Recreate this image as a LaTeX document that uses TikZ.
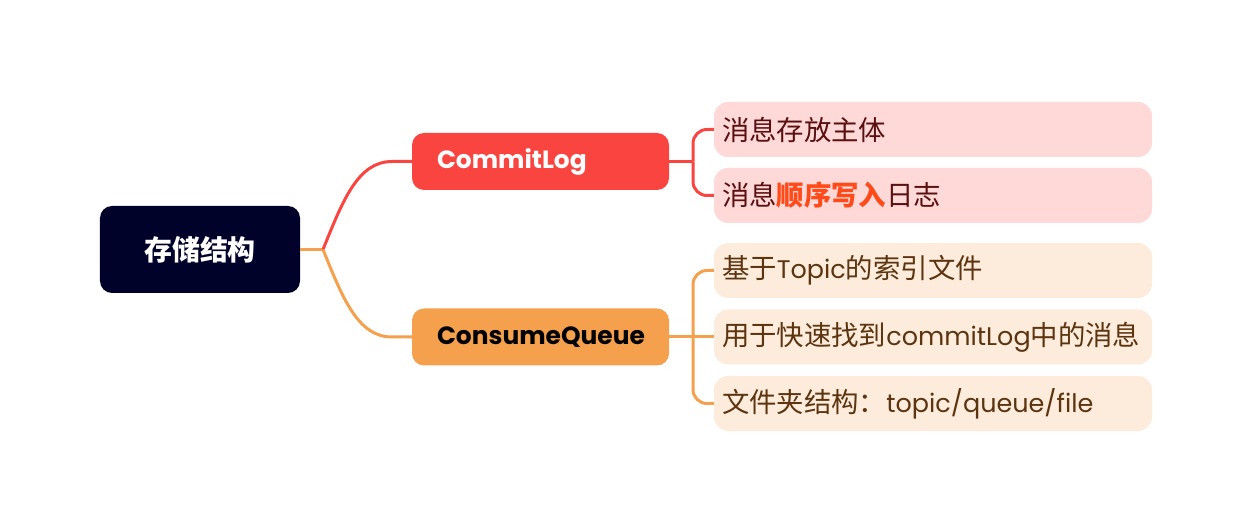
\documentclass[tikz,border=0pt]{standalone}
\usepackage{fontspec}
\setmainfont{Poppins}
\newfontfamily\cjk{Noto Sans CJK SC}
\newfontfamily\lat[Scale=0.93]{Poppins}
\usetikzlibrary{calc,positioning}

\definecolor{rootbg}{HTML}{01022A}
\definecolor{logred}{HTML}{F94440}
\definecolor{queueorg}{HTML}{F5A04C}
\definecolor{pinkbg}{HTML}{FFD9D8}
\definecolor{peachbg}{HTML}{FDEBDC}
\definecolor{redtext}{HTML}{5A0F10}
\definecolor{browntext}{HTML}{5C3510}
\definecolor{hilite}{HTML}{FF4A1A}

\tikzset{
	rootbox/.style={fill=rootbg, rounded corners=12bp, minimum width=200bp, minimum height=87bp,
		text=white, font=\cjk\bfseries\fontsize{28}{32}\selectfont},
	topicbox/.style={rounded corners=12bp, minimum width=257bp, minimum height=57bp,
		text width=207bp, inner xsep=25bp, align=left,
		font=\rmfamily\bfseries\fontsize{25}{29}\selectfont},
	leafbox/.style={rounded corners=14bp, minimum width=438bp, minimum height=55bp,
		text width=422bp, inner xsep=8bp, inner ysep=0pt, align=left,
		font=\cjk\fontsize{27.5}{31}\selectfont},
	redline/.style={draw=logred, line width=3bp},
	orgline/.style={draw=queueorg, line width=3bp},
}

\begin{document}
\begin{tikzpicture}[x=1bp,y=-1bp]

	\useasboundingbox (0,0) rectangle (1252,532);

	\node[rootbox] (root) at (200,249.5) {存储结构};

	\node[topicbox, fill=logred, text=white] (commit) at (540.5,161.5) {CommitLog};
	\node[topicbox, fill=queueorg, text=black] (consume) at (540.5,337) {ConsumeQueue};

	\node[leafbox, fill=pinkbg, text=redtext] (c1) at (933,129.5) {消息存放主体};
	\node[leafbox, fill=pinkbg, text=redtext] (c2) at (933,195.5) {消息{\bfseries\color{hilite}顺序写入}日志};

	\node[leafbox, fill=peachbg, text=browntext] (q1) at (933,270.5) {基于{\lat Topic}的索引文件};
	\node[leafbox, fill=peachbg, text=browntext] (q2) at (933,337) {用于快速找到{\lat commitLog}中的消息};
	\node[leafbox, fill=peachbg, text=browntext] (q3) at (933,403.5) {文件夹结构：{\lat topic/queue/file}};

	% root to topics
	\coordinate (rj) at (323,249.5);
	\draw[orgline] (root.east) -- (rj);
	\draw[redline] (rj) .. controls (343,200) and (358,161.5) .. (392,161.5) -- (commit.west);
	\draw[orgline] (rj) .. controls (343,299) and (358,337) .. (392,337) -- (consume.west);

	% topics to leaves
	\coordinate (cj) at (693,161.5);
	\draw[redline] (commit.east) -- (cj);
	\draw[redline, rounded corners=14bp] (cj) |- (c1.west);
	\draw[redline, rounded corners=14bp] (cj) |- (c2.west);

	\coordinate (qj) at (693,337);
	\draw[orgline] (consume.east) -- (qj) -- (q2.west);
	\draw[orgline, rounded corners=14bp] (qj) |- (q1.west);
	\draw[orgline, rounded corners=14bp] (qj) |- (q3.west);

\end{tikzpicture}
\end{document}
